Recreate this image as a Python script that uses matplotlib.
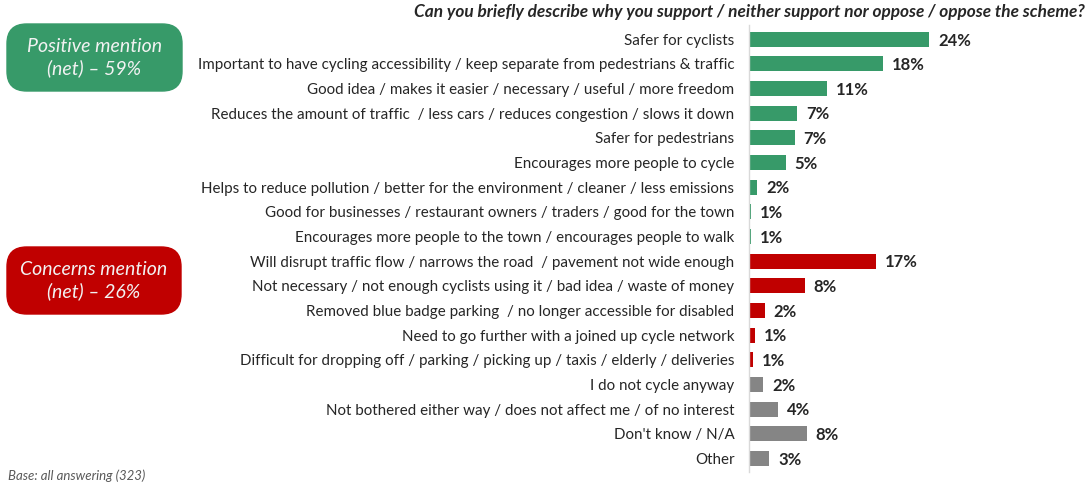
import matplotlib
matplotlib.use("Agg")
from matplotlib import pyplot as plt
from matplotlib.patches import FancyBboxPatch

# data
categories = [
    "Safer for cyclists",
    "Important to have cycling accessibility / keep separate from pedestrians & traffic",
    "Good idea / makes it easier / necessary / useful / more freedom",
    "Reduces the amount of traffic  / less cars / reduces congestion / slows it down",
    "Safer for pedestrians",
    "Encourages more people to cycle",
    "Helps to reduce pollution / better for the environment / cleaner / less emissions",
    "Good for businesses / restaurant owners / traders / good for the town",
    "Encourages more people to the town / encourages people to walk",
    "Will disrupt traffic flow / narrows the road  / pavement not wide enough",
    "Not necessary / not enough cyclists using it / bad idea / waste of money",
    "Removed blue badge parking  / no longer accessible for disabled",
    "Need to go further with a joined up cycle network",
    "Difficult for dropping off / parking / picking up / taxis / elderly / deliveries",
    "I do not cycle anyway",
    "Not bothered either way / does not affect me / of no interest",
    "Don't know / N/A",
    "Other",
]
bar_values = [24.0, 17.9, 10.4, 6.4, 6.1, 4.9, 1.1, 0.25, 0.25,
              16.9, 7.4, 2.1, 0.8, 0.5, 1.9, 3.9, 7.7, 2.7]
value_labels = ["24%", "18%", "11%", "7%", "7%", "5%", "2%", "1%", "1%",
                "17%", "8%", "2%", "1%", "1%", "2%", "4%", "8%", "3%"]
groups = ["pos"] * 9 + ["neg"] * 5 + ["other"] * 4

GREEN = "#379A69"
RED = "#C00000"
GREY = "#858585"
group_colors = {"pos": GREEN, "neg": RED, "other": GREY}

title = "Can you briefly describe why you support / neither support nor oppose / oppose the scheme?"
base_note = "Base: all answering (323)"

plt.rcParams["font.family"] = ["Lato", "DejaVu Sans"]

W, H = 1091, 488
fig = plt.figure(figsize=(W / 100, H / 100), dpi=100)

# axes placed in pixel terms
ax_left, ax_right, ax_top, ax_bottom = 749, 1085, 25, 472
ax = fig.add_axes([ax_left / W, (H - ax_bottom) / H,
                   (ax_right - ax_left) / W, (ax_bottom - ax_top) / H])

y = list(range(len(categories)))
colors = [group_colors[g] for g in groups]
ax.barh(y, bar_values, height=0.61, color=colors)
ax.set_xlim(0, (ax_right - ax_left) / 7.5)
ax.set_ylim(17.55, -0.58)

for yi, v, lab in zip(y, bar_values, value_labels):
    ax.text(v + 1.2, yi + 0.05, lab, va="center", ha="left", fontsize=12,
            fontweight="bold", color="#262626")

ax.set_yticks(y)
ax.set_yticklabels(categories, fontsize=10.9, color="#262626")
ax.tick_params(axis="y", length=0, pad=10.5)
ax.set_xticks([])
for s in ["top", "right", "bottom"]:
    ax.spines[s].set_visible(False)
ax.spines["left"].set_color("#D9D9D9")
ax.spines["left"].set_linewidth(1)

fig.text(1085 / W, 1 - 12 / H, title, ha="right", va="center", fontsize=12.4,
         fontweight="bold", fontstyle="italic", color="#262626")

# net mention boxes
def net_box(x0, y0, x1, y1, color, text):
    box = FancyBboxPatch((x0 / W, 1 - y1 / H), (x1 - x0) / W, (y1 - y0) / H,
                         boxstyle="round,pad=0,rounding_size=0.018",
                         transform=fig.transFigure, facecolor=color,
                         edgecolor=color, mutation_aspect=W / H)
    fig.patches.append(box)
    fig.text((x0 + x1) / 2 / W, 1 - (y0 + y1) / 2 / H, text, ha="center",
             va="center", fontsize=14, fontstyle="italic", color="#F2F2F2",
             linespacing=1.3)

net_box(7, 24, 182, 91, GREEN, "Positive mention\n(net) \u2013 59%")
net_box(7, 247, 181, 314, RED, "Concerns mention\n(net) \u2013 26%")

fig.text(8 / W, 1 - 476 / H, base_note, ha="left", va="center", fontsize=9.5,
         fontstyle="italic", color="#595959")

fig.savefig("out.png", dpi=100)
